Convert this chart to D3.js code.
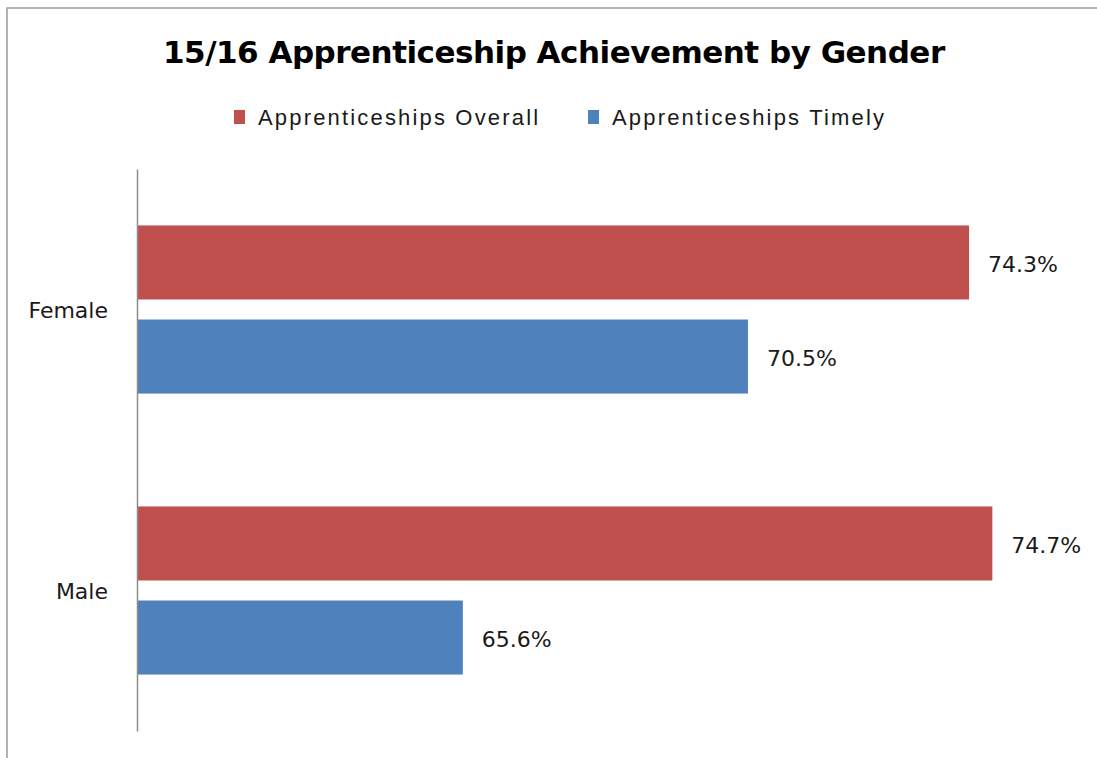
<!DOCTYPE html>
<html>
<head>
<meta charset="utf-8">
<script src="https://cdn.jsdelivr.net/npm/d3@7"></script>
<style>
  html, body { margin: 0; padding: 0; background: #ffffff; }
  svg { display: block; }
</style>
</head>
<body>
<svg id="chart" width="1097" height="758"></svg>
<script>
// Chart data
const categories = ["Female", "Male"];
const seriesNames = ["Apprenticeships Overall", "Apprenticeships Timely"];
const overallValues = [74.3, 74.7];
const timelyValues = [70.5, 65.6];
const seriesColors = ["#C0504D", "#4F81BD"];
const titleText = "15/16 Apprenticeship Achievement by Gender";

const rows = categories.map((c, i) => ({
  category: c,
  values: [
    { series: seriesNames[0], value: overallValues[i] },
    { series: seriesNames[1], value: timelyValues[i] }
  ]
}));

const svg = d3.select("#chart");
const W = 1097, H = 758;

// Adjust glyph spacing so a text element spans a given width
function spreadTo(sel, target) {
  const node = sel.node();
  const w = node.getComputedTextLength();
  const n = sel.text().length;
  if (n > 1) sel.attr("letter-spacing", ((target - w) / (n - 1)).toFixed(2));
}

// Chart frame
svg.append("rect")
  .attr("x", 7).attr("y", 8)
  .attr("width", W + 20).attr("height", H + 20)
  .attr("fill", "#ffffff")
  .attr("stroke", "#9a9a9a")
  .attr("stroke-width", 1.5);

// Title
const title = svg.append("text")
  .attr("x", 163).attr("y", 63)
  .attr("font-family", "'DejaVu Sans', Verdana, sans-serif")
  .attr("font-weight", "bold")
  .attr("font-size", 31)
  .attr("fill", "#000000")
  .text(titleText);
spreadTo(title, 782);

// Legend
const legendItems = [
  { name: seriesNames[0], color: seriesColors[0], x: 234, w: 280 },
  { name: seriesNames[1], color: seriesColors[1], x: 588, w: 272 }
];
const legend = svg.append("g");
legendItems.forEach(d => {
  legend.append("rect")
    .attr("x", d.x).attr("y", 110)
    .attr("width", 11).attr("height", 14)
    .attr("fill", d.color);
  const t = legend.append("text")
    .attr("x", d.x + 24).attr("y", 125)
    .attr("font-family", "'Liberation Sans', Arial, sans-serif")
    .attr("font-size", 22)
    .attr("fill", "#1a1a1a")
    .text(d.name);
  spreadTo(t, d.w);
});

// Scales
const plot = { left: 137, right: 1068, top: 169, bottom: 731 };
const x = d3.scaleLinear().domain([60, 76]).range([plot.left, plot.right]);
const y = d3.scaleBand().domain(categories).range([plot.top, plot.bottom]).padding(0);
const ySub = d3.scaleBand().domain(seriesNames)
  .range([0, y.bandwidth()])
  .paddingInner(0.213).paddingOuter(0.6);
const color = d3.scaleOrdinal().domain(seriesNames).range(seriesColors);

// Bars
const groups = svg.append("g").selectAll("g")
  .data(rows).join("g")
  .attr("transform", d => `translate(0,${y(d.category)})`);

groups.selectAll("rect")
  .data(d => d.values).join("rect")
  .attr("x", x(60))
  .attr("y", d => ySub(d.series))
  .attr("width", d => x(d.value) - x(60))
  .attr("height", ySub.bandwidth())
  .attr("fill", d => color(d.series));

// Value labels
groups.selectAll("text.value")
  .data(d => d.values).join("text")
  .attr("class", "value")
  .attr("x", d => x(d.value) + 19)
  .attr("y", d => ySub(d.series) + ySub.bandwidth() / 2)
  .attr("dy", "0.45em")
  .attr("font-family", "'DejaVu Sans', Verdana, sans-serif")
  .attr("font-size", 22)
  .attr("fill", "#1a1a1a")
  .text(d => d.value.toFixed(1) + "%");

// Category axis (line only, labels to the left)
const yAxis = d3.axisLeft(y).tickSize(0).tickPadding(29);
const ax = svg.append("g")
  .attr("transform", `translate(${plot.left},0)`)
  .call(yAxis);
ax.select(".domain").attr("stroke", "#8c8c8c").attr("stroke-width", 1.5);
ax.selectAll(".tick text")
  .attr("font-family", "'DejaVu Sans', Verdana, sans-serif")
  .attr("font-size", 22)
  .attr("fill", "#1a1a1a")
  .attr("dy", "0.38em");
</script>
</body>
</html>
